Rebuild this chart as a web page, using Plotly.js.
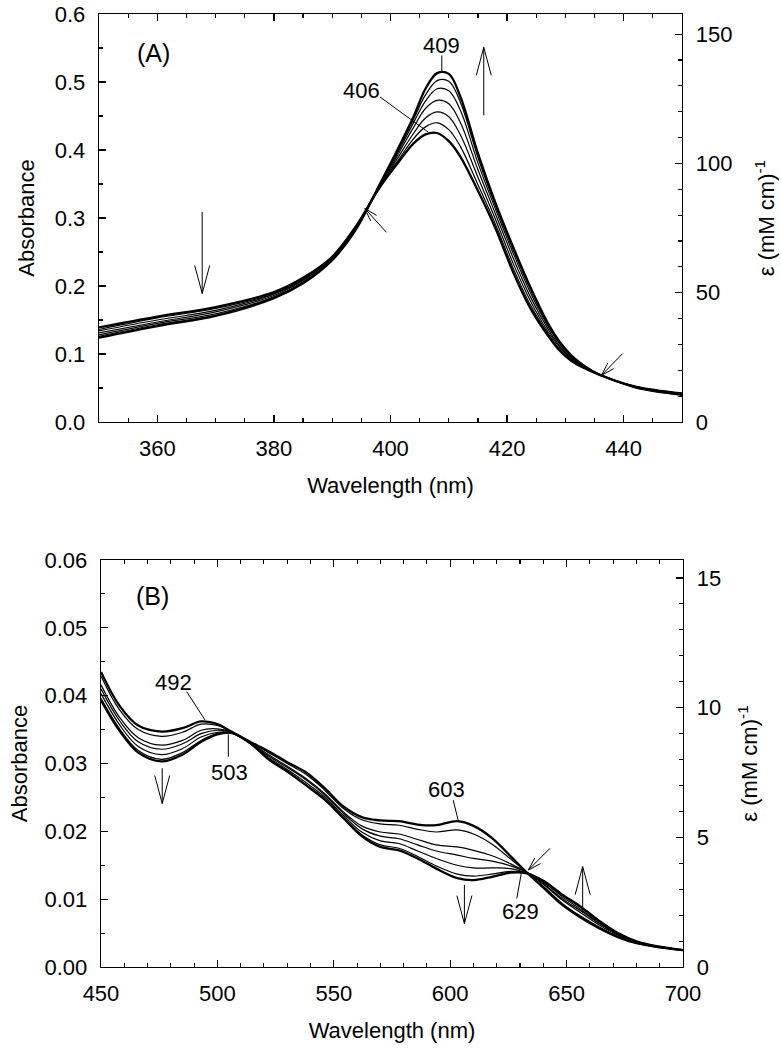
<!DOCTYPE html>
<html>
<head>
<meta charset="utf-8">
<script src="https://cdn.plot.ly/plotly-3.0.1.min.js"></script>
<style>
  body { margin: 0; background: #fff; }
  #chart { width: 781px; height: 1050px; }
</style>
</head>
<body>
<div id="chart"></div>
<script>
// panel A: Soret region, 7 scans (first and last drawn thick)
const wavelengthA = [350, 360, 370, 380, 385, 390, 394, 398, 401, 404, 406, 408, 410, 412, 415, 418, 421, 424, 427, 429, 431, 433, 436, 442, 450];
const scanA1 = [0.139, 0.155, 0.169, 0.191, 0.212, 0.243, 0.287, 0.343, 0.378, 0.410, 0.423, 0.425, 0.413, 0.390, 0.340, 0.285, 0.221, 0.167, 0.127, 0.105, 0.090, 0.080, 0.069, 0.051, 0.040];
const scanA2 = [0.136, 0.153, 0.167, 0.189, 0.211, 0.242, 0.286, 0.344, 0.381, 0.417, 0.434, 0.440, 0.430, 0.405, 0.349, 0.291, 0.227, 0.172, 0.130, 0.107, 0.091, 0.081, 0.069, 0.051, 0.040];
const scanA3 = [0.134, 0.150, 0.164, 0.188, 0.209, 0.241, 0.285, 0.344, 0.385, 0.425, 0.447, 0.456, 0.449, 0.422, 0.360, 0.298, 0.234, 0.178, 0.133, 0.110, 0.093, 0.081, 0.069, 0.051, 0.041];
const scanA4 = [0.131, 0.147, 0.162, 0.186, 0.208, 0.240, 0.284, 0.345, 0.389, 0.434, 0.461, 0.473, 0.468, 0.440, 0.371, 0.306, 0.242, 0.184, 0.137, 0.112, 0.094, 0.082, 0.069, 0.052, 0.041];
const scanA5 = [0.128, 0.145, 0.159, 0.184, 0.206, 0.239, 0.283, 0.346, 0.392, 0.441, 0.472, 0.490, 0.487, 0.458, 0.381, 0.313, 0.249, 0.190, 0.141, 0.115, 0.096, 0.083, 0.069, 0.052, 0.042];
const scanA6 = [0.126, 0.143, 0.157, 0.183, 0.205, 0.238, 0.283, 0.347, 0.395, 0.446, 0.481, 0.502, 0.501, 0.470, 0.389, 0.318, 0.254, 0.195, 0.143, 0.117, 0.097, 0.084, 0.069, 0.052, 0.042];
const scanA7 = [0.124, 0.141, 0.156, 0.182, 0.204, 0.238, 0.282, 0.347, 0.397, 0.450, 0.490, 0.513, 0.512, 0.478, 0.395, 0.322, 0.258, 0.198, 0.145, 0.118, 0.098, 0.084, 0.069, 0.052, 0.042];

// panel B: visible region
const wavelengthB = [450, 458, 466, 476, 485, 493, 500, 506, 514, 522, 530, 538, 546, 554, 562, 570, 578, 586, 594, 603, 610, 618, 626, 633, 640, 648, 656, 664, 672, 680, 690, 700];
const scanB1 = [0.0435, 0.0385, 0.0356, 0.0347, 0.0352, 0.0362, 0.0358, 0.0347, 0.0332, 0.0318, 0.0302, 0.0287, 0.0264, 0.0237, 0.0221, 0.0216, 0.0215, 0.0210, 0.0209, 0.0215, 0.0208, 0.0190, 0.0163, 0.0139, 0.0117, 0.0092, 0.0073, 0.0057, 0.0044, 0.0035, 0.0029, 0.0025];
const scanB2 = [0.0429, 0.0379, 0.0350, 0.0340, 0.0346, 0.0358, 0.0356, 0.0347, 0.0332, 0.0316, 0.0300, 0.0284, 0.0261, 0.0234, 0.0217, 0.0211, 0.0209, 0.0203, 0.0199, 0.0202, 0.0196, 0.0181, 0.0159, 0.0139, 0.0119, 0.0094, 0.0075, 0.0059, 0.0045, 0.0035, 0.0029, 0.0025];
const scanB3 = [0.0416, 0.0368, 0.0338, 0.0327, 0.0334, 0.0349, 0.0351, 0.0346, 0.0331, 0.0313, 0.0296, 0.0278, 0.0256, 0.0229, 0.0208, 0.0199, 0.0196, 0.0188, 0.0180, 0.0177, 0.0172, 0.0164, 0.0152, 0.0139, 0.0122, 0.0099, 0.0080, 0.0062, 0.0047, 0.0036, 0.0029, 0.0025];
const scanB4 = [0.0410, 0.0363, 0.0332, 0.0321, 0.0329, 0.0344, 0.0349, 0.0346, 0.0331, 0.0311, 0.0294, 0.0276, 0.0254, 0.0227, 0.0204, 0.0193, 0.0189, 0.0180, 0.0171, 0.0165, 0.0160, 0.0156, 0.0149, 0.0139, 0.0123, 0.0101, 0.0083, 0.0064, 0.0048, 0.0037, 0.0030, 0.0025];
const scanB5 = [0.0403, 0.0357, 0.0325, 0.0313, 0.0322, 0.0339, 0.0346, 0.0345, 0.0330, 0.0309, 0.0291, 0.0272, 0.0251, 0.0224, 0.0199, 0.0186, 0.0182, 0.0171, 0.0160, 0.0150, 0.0146, 0.0146, 0.0145, 0.0138, 0.0125, 0.0104, 0.0085, 0.0065, 0.0049, 0.0037, 0.0030, 0.0025];
const scanB6 = [0.0396, 0.0351, 0.0319, 0.0306, 0.0316, 0.0334, 0.0344, 0.0345, 0.0330, 0.0307, 0.0289, 0.0269, 0.0248, 0.0221, 0.0195, 0.0180, 0.0175, 0.0163, 0.0149, 0.0137, 0.0134, 0.0137, 0.0141, 0.0138, 0.0126, 0.0106, 0.0088, 0.0067, 0.0050, 0.0038, 0.0030, 0.0025];
const scanB7 = [0.0393, 0.0348, 0.0316, 0.0303, 0.0313, 0.0332, 0.0343, 0.0345, 0.0330, 0.0306, 0.0288, 0.0268, 0.0247, 0.0220, 0.0193, 0.0177, 0.0172, 0.0160, 0.0145, 0.0131, 0.0128, 0.0133, 0.0139, 0.0138, 0.0127, 0.0107, 0.0089, 0.0068, 0.0050, 0.0038, 0.0030, 0.0025];

// peak labels [text, x, y]
const labelsA = [['406', 395.0, 0.487], ['409', 408.8, 0.554]];
const labelsB = [['492', 481.1, 0.0419], ['503', 505.0, 0.0287], ['603', 598.5, 0.0261], ['629', 630.0, 0.0082]];

const FONT = 'Liberation Sans, Arial, Helvetica, sans-serif';
const W = 781, H = 1050;
const M = { l: 99, r: 98, t: 14, b: 83 };

const scansA = [scanA1, scanA2, scanA3, scanA4, scanA5, scanA6, scanA7];
const scansB = [scanB1, scanB2, scanB3, scanB4, scanB5, scanB6, scanB7];

function spectra(xs, scans, xa, ya) {
    return scans.map((ys, i) => ({
        x: xs,
        y: ys,
        xaxis: xa,
        yaxis: ya,
        type: 'scatter',
        mode: 'lines',
        line: { color: '#000', width: (i === 0 || i === scans.length - 1) ? 2.3 : 1.2, shape: 'spline', smoothing: 1 },
        showlegend: false,
        hoverinfo: 'skip'
    }));
}

// empty traces so the right-hand epsilon axes get drawn
const epsA = { x: [], y: [], xaxis: 'x', yaxis: 'y3', type: 'scatter', mode: 'lines', showlegend: false };
const epsB = { x: [], y: [], xaxis: 'x2', yaxis: 'y4', type: 'scatter', mode: 'lines', showlegend: false };

const data = [].concat(spectra(wavelengthA, scansA, 'x', 'y'), spectra(wavelengthB, scansB, 'x2', 'y2'), [epsA, epsB]);

// pixel scale of each panel, used to shape arrow heads
const plotW = W - M.l - M.r, plotH = H - M.t - M.b;
const domA = [0.5719, 1], domB = [0, 0.4271];
const scaleA = { sx: plotW * 0.9983 / 100, sy: plotH * (domA[1] - domA[0]) / 0.6 };
const scaleB = { sx: plotW * 0.9966 / 250, sy: plotH * (domB[1] - domB[0]) / 0.06 };

const shapes = [];
function seg(xr, yr, x0, y0, x1, y1) {
    shapes.push({ type: 'line', xref: xr, yref: yr, x0: x0, y0: y0, x1: x1, y1: y1, line: { color: '#000', width: 1 } });
}
function arrow(xr, yr, sc, tail, tip, len, half) {
    seg(xr, yr, tail[0], tail[1], tip[0], tip[1]);
    const dx = (tip[0] - tail[0]) * sc.sx, dy = (tip[1] - tail[1]) * sc.sy;
    const L = Math.hypot(dx, dy), ux = dx / L, uy = dy / L;
    [1, -1].forEach(s => {
        shapes.push({
            type: 'line', xref: xr, yref: yr,
            xsizemode: 'pixel', ysizemode: 'pixel',
            xanchor: tip[0], yanchor: tip[1],
            x0: 0, y0: 0,
            x1: -ux * len - s * uy * half,
            y1: -uy * len + s * ux * half,
            line: { color: '#000', width: 1 }
        });
    });
}

// leader lines
seg('x', 'y', 398.2, 0.478, 406.5, 0.426);
seg('x', 'y', 408.8, 0.539, 408.8, 0.515);
seg('x2', 'y2', 486.8, 0.0406, 494.7, 0.0364);
seg('x2', 'y2', 504.7, 0.0343, 504.7, 0.0310);
seg('x2', 'y2', 601.3, 0.0246, 603.5, 0.0215);
seg('x2', 'y2', 628.6, 0.0101, 630.7, 0.0141);

// direction arrows
arrow('x', 'y', scaleA, [416.0, 0.451], [416.0, 0.551], 28, 7.5);
arrow('x', 'y', scaleA, [367.7, 0.309], [367.7, 0.189], 28, 7.5);
arrow('x', 'y', scaleA, [399.3, 0.279], [395.6, 0.314], 13, 4);
arrow('x', 'y', scaleA, [439.8, 0.1005], [436.2, 0.0687], 13, 4);
arrow('x2', 'y2', scaleB, [476.3, 0.0293], [476.3, 0.0241], 28, 7.5);
arrow('x2', 'y2', scaleB, [606.1, 0.0121], [606.1, 0.0064], 28, 7.5);
arrow('x2', 'y2', scaleB, [642.9, 0.0175], [633.6, 0.0143], 13, 4);
arrow('x2', 'y2', scaleB, [656.9, 0.0080], [656.9, 0.0148], 28, 7.5);

const annotations = [];
function label(xr, yr, t, x, y, size) {
    annotations.push({ xref: xr, yref: yr, x: x, y: y, text: t, showarrow: false,
        font: { family: FONT, size: size || 22, color: '#000' } });
}
label('x', 'y', '(A)', 359.4, 0.542, 25);
label('x2', 'y2', '(B)', 472.3, 0.0547, 25);
labelsA.forEach(l => label('x', 'y', l[0], l[1], l[2]));
labelsB.forEach(l => label('x2', 'y2', l[0], l[1], l[2]));

const tickFont = { family: FONT, size: 22, color: '#000' };
const titleFont = { family: FONT, size: 22, color: '#000' };

function xAxis(dom, anchor, range, dtick, minor) {
    return {
        domain: dom, anchor: anchor, range: range, dtick: dtick,
        ticks: 'inside', ticklen: 7, tickwidth: 1.3, tickcolor: '#000',
        minor: { dtick: minor, ticks: 'inside', ticklen: 4, tickwidth: 1.1, tickcolor: '#000' },
        showline: true, linecolor: '#000', linewidth: 1.3, mirror: 'ticks',
        showgrid: false, zeroline: false,
        tickfont: tickFont, ticklabelstandoff: 6,
        title: { text: 'Wavelength (nm)', font: titleFont, standoff: 18 }
    };
}
function yAxis(dom, anchor, range, dtick, minor, fmt, title, side, overlay, standoff) {
    const ax = {
        anchor: anchor, range: range, dtick: dtick, tickformat: fmt,
        ticks: 'inside', ticklen: 7, tickwidth: 1.3, tickcolor: '#000',
        minor: { dtick: minor, ticks: 'inside', ticklen: 4, tickwidth: 1.1, tickcolor: '#000' },
        showline: true, linecolor: '#000', linewidth: 1.3,
        showgrid: false, zeroline: false,
        tickfont: tickFont, ticklabelstandoff: 8,
        title: { text: title, font: titleFont, standoff: standoff },
        side: side
    };
    if (overlay) ax.overlaying = overlay; else ax.domain = dom;
    return ax;
}

const layout = {
    width: W, height: H, margin: M,
    paper_bgcolor: '#fff', plot_bgcolor: '#fff',
    font: { family: FONT, color: '#000' },
    showlegend: false,
    xaxis: xAxis([0, 0.9983], 'y', [350, 450], 20, 5),
    yaxis: yAxis(domA, 'x', [0, 0.6], 0.1, 0.05, '.1f', 'Absorbance', 'left', null, 14),
    yaxis3: yAxis(null, 'x', [0, 157.8], 50, 10, 'd', 'ε (mM cm)<sup>-1</sup>', 'right', 'y', 27),
    xaxis2: xAxis([0.0034, 1], 'y2', [450, 700], 50, 10),
    yaxis2: yAxis(domB, 'x2', [0, 0.06], 0.01, 0.005, '.2f', 'Absorbance', 'left', null, 10),
    yaxis4: yAxis(null, 'x2', [0, 15.69], 5, 1, 'd', 'ε (mM cm)<sup>-1</sup>', 'right', 'y2', 21),
    shapes: shapes,
    annotations: annotations
};

Plotly.newPlot('chart', data, layout, { staticPlot: true });
</script>
</body>
</html>
